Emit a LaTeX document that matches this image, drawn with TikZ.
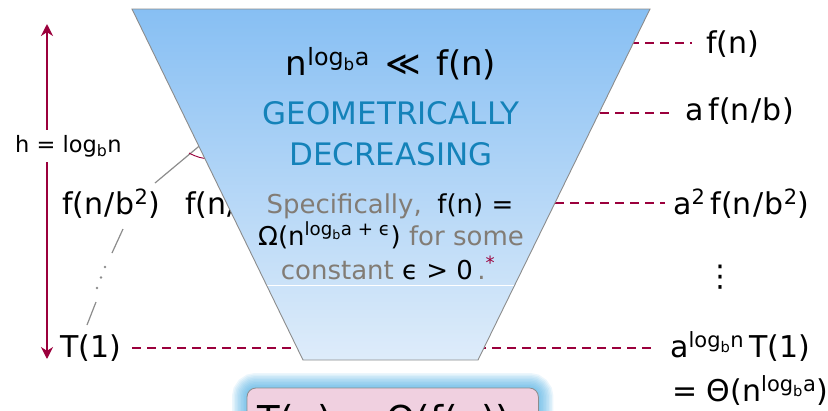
\documentclass[tikz,border=0pt]{standalone}
\usepackage{fontspec}
\setmainfont{DejaVu Sans}
\usetikzlibrary{arrows.meta,calc}
\definecolor{crim}{RGB}{155,0,60}
\definecolor{geoblue}{RGB}{20,130,185}
\definecolor{txtgray}{RGB}{130,124,117}
\definecolor{edgegray}{RGB}{140,140,140}
\definecolor{topblue}{RGB}{135,191,243}
\definecolor{botblue}{RGB}{222,236,250}
\definecolor{pinkfill}{RGB}{240,208,224}
\definecolor{glowblue}{RGB}{70,170,225}
\newcommand\lgbsup[1]{\textsuperscript{log\textsubscript{b}#1}}
\tikzset{
  lbl/.style={inner sep=0pt, anchor=base west, font=\fontsize{30}{36}\selectfont},
  leader/.style={crim, line width=2.3pt, dash pattern=on 9pt off 6pt},
  harrow/.style={crim, line width=2.8pt, -{Stealth[length=12pt,width=12pt]}},
  treeline/.style={edgegray, line width=1.2pt},
  spec/.style={inner sep=0pt, anchor=base, font=\fontsize{26}{32}\selectfont},
  geo/.style={inner sep=0pt, anchor=base, text=geoblue, font=\fontsize{31}{38}\selectfont},
  resbox/.style={draw=edgegray, line width=0.8pt, fill=pinkfill, rounded corners=9pt}
}
\begin{document}
\begin{tikzpicture}[x=1pt,y=-1pt]
\useasboundingbox (0,0) rectangle (828,410);
\clip (0,0) rectangle (828,410);

% ---------- left side ----------
\coordinate (htop) at (47,24);
\coordinate (hbot) at (47,359);
\node[inner xsep=0pt, inner ysep=5pt, anchor=base west, font=\fontsize{22.5}{26}\selectfont] (hlab) at (15,152) {h = log\textsubscript{b}n};
\draw[harrow] (hlab.north -| htop) -- (htop);
\draw[harrow] (hlab.south -| hbot) -- (hbot);

\node[lbl] (lfb2) at (62,214) {f(n\kern1pt/\kern1pt b\textsuperscript{2})};
\node[lbl] (lfb2b) at (185,214) {f(n\kern1pt/};
\node[lbl] (tone) at (60,357) {T(1)};

% tree hints
\coordinate (trA) at (155,183);
\coordinate (trB) at (240,112);
\draw[treeline] (trA) -- (trB);
\draw[crim, line width=0.9pt] (189,153) to[bend right=12] (210,159);
\coordinate (dA) at (123,229);
\coordinate (dB) at (112,253);
\coordinate (dC) at (96,302);
\coordinate (dD) at (87,325);
\draw[treeline] (dA) -- (dB);
\draw[treeline] (dC) -- (dD);
\foreach \p in {(105,267),(101,277.5),(97,288)} \fill[edgegray] \p circle (1.3pt);

% ---------- right side ----------
\node[lbl] (fn) at (706,53) {f(n)};
\node[lbl] (afnb) at (685,120) {a\,f(n\kern1.5pt/\kern1.5pt b)};
\node[lbl] (a2) at (673,214) {a\textsuperscript{2}\,f(n\kern1.5pt/\kern1.5pt b\textsuperscript{2})};
\node[lbl, anchor=center] (vdots) at (720,277) {⋮};
\node[lbl] (alog) at (670,357) {a\lgbsup{n}\,T(1)};
\node[lbl] (theta) at (672,401) {= Θ(n\lgbsup{a})};

\coordinate (c1) at (450,43);
\coordinate (c2) at (450,113);
\coordinate (c3) at (450,203);
\draw[leader, shorten >=14pt] (c1) -- (c1 -| fn.west);
\draw[leader, shorten >=15pt] (c2) -- (c2 -| afnb.west);
\draw[leader, shorten >=8pt] (c3) -- (c3 -| a2.west);
\draw[leader, shorten <=11pt, shorten >=13pt] (tone.east |- 0,348) -- (alog.west |- 0,348);

% ---------- trapezoid ----------
\coordinate (tl) at (132,9);
\coordinate (tr) at (650,9);
\coordinate (br) at (478,360);
\coordinate (bl) at (303,360);
\shade[top color=topblue, bottom color=botblue] (tl) -- (tr) -- (br) -- (bl) -- cycle;
\draw[white, line width=0.8pt] ($(tl)!0.7863!(bl)$) -- ($(tr)!0.7863!(br)$);
\draw[edgegray, line width=0.9pt] (tl) -- (tr) -- (br) -- (bl) -- cycle;

\node[inner sep=0pt, anchor=base, font=\fontsize{34}{40}\selectfont] (master) at (391,75) {n\lgbsup{a}\hspace{0.45em}≪\hspace{0.45em}f(n)};
\node[geo] (geo1) at (391,124) {GEOMETRICALLY};
\node[geo] (geo2) at (391,165) {DECREASING};
\node[spec] (s1) at (390,213) {\textcolor{txtgray}{Specifically,}\hspace{0.6em}f(n) =};
\node[spec] (s2) at (391,245) {Ω(n\textsuperscript{log\textsubscript{b}a + ϵ}) \textcolor{txtgray}{for some}};
\node[spec] (s3) at (388,279) {\textcolor{txtgray}{constant} ϵ > 0\,\textcolor{txtgray}{.}\textsuperscript{\textcolor{crim}{*}}};

% ---------- result box ----------
\node[minimum width=291pt, minimum height=72pt, inner sep=0pt, anchor=north west] (res) at (247,388) {};
\foreach \w in {3,6,...,30}
  \draw[glowblue, line width=\w pt, opacity=0.1, rounded corners=9pt] (res.north west) rectangle (res.south east);
\draw[resbox] (res.north west) rectangle (res.south east);
\node[inner sep=0pt, anchor=base west, font=\fontsize{37}{44}\selectfont] (restext) at (257,432) {T(n) = Θ(f(n))};
\end{tikzpicture}
\end{document}
